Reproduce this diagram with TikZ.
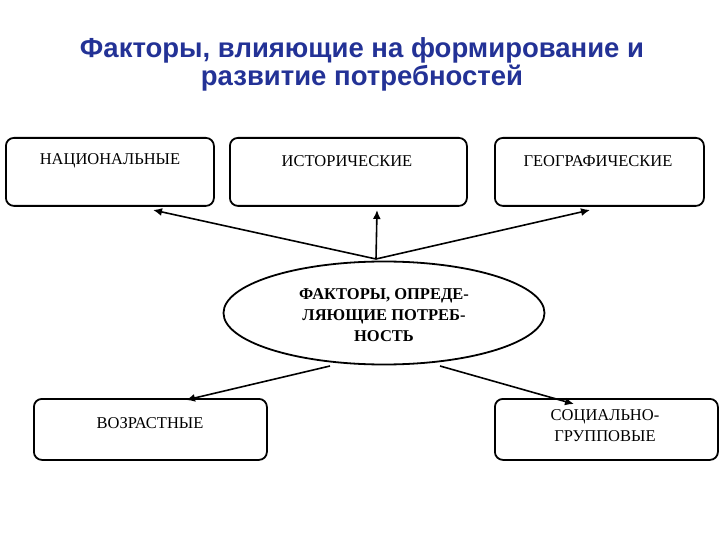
\documentclass[tikz,border=0pt]{standalone}
\usepackage{fontspec}
\setmainfont{Liberation Serif}
\newfontfamily\titlefont{Liberation Sans}
\usetikzlibrary{shapes.geometric,arrows.meta}
\definecolor{ttl}{RGB}{35,50,150}
\begin{document}
\begin{tikzpicture}[x=1pt,y=-1pt,
  fbox/.style={draw,line width=1.8pt,rounded corners=8pt,anchor=north west,inner sep=0pt},
  lbl/.style={font=\fontsize{16.5}{19}\selectfont,align=center},
  arr/.style={-{Latex[length=9pt,width=8pt]},line width=1.6pt}]
\useasboundingbox (0,0) rectangle (720,540);
\node[font=\titlefont\bfseries\fontsize{27.5}{28}\selectfont,text=ttl,align=center] (title) at (362,64) {Факторы, влияющие на формирование и\\развитие потребностей};
\node[fbox,minimum width=208pt,minimum height=68pt] (nac) at (5,137) {};
\node[fbox,minimum width=237pt,minimum height=68pt] (ist) at (229,137) {};
\node[fbox,minimum width=209pt,minimum height=68pt] (geo) at (494,137) {};
\node[fbox,minimum width=233pt,minimum height=61pt] (voz) at (33,398) {};
\node[fbox,minimum width=223pt,minimum height=61pt] (soc) at (494,398) {};
\node[lbl] at (110,161) {НАЦИОНАЛЬНЫЕ};
\node[lbl] at (347,161) {ИСТОРИЧЕСКИЕ};
\node[lbl] at (598,161) {ГЕОГРАФИЧЕСКИЕ};
\node[lbl] at (150,423) {ВОЗРАСТНЫЕ};
\node[lbl,font=\fontsize{16.5}{21}\selectfont] at (605,426) {СОЦИАЛЬНО-\\ГРУППОВЫЕ};
\node[draw,ellipse,line width=1.8pt,minimum width=321pt,minimum height=103pt] (ell) at (384,313) {};
\node[lbl,font=\bfseries\fontsize{16.5}{21}\selectfont] at (384,315) {ФАКТОРЫ, ОПРЕДЕ-\\ЛЯЮЩИЕ ПОТРЕБ-\\НОСТЬ};
\coordinate (hub) at (376,259);
\coordinate (a1) at (153,210);
\coordinate (a2) at (377,210);
\coordinate (a3) at (590,210);
\coordinate (b1) at (330,366);
\coordinate (b2) at (440,366);
\coordinate (c1) at (186,400);
\coordinate (c2) at (574,404);
\draw[arr] (hub) -- (a1);
\draw[arr] (hub) -- (a2);
\draw[arr] (hub) -- (a3);
\draw[arr] (b1) -- (c1);
\draw[arr] (b2) -- (c2);
\end{tikzpicture}
\end{document}
